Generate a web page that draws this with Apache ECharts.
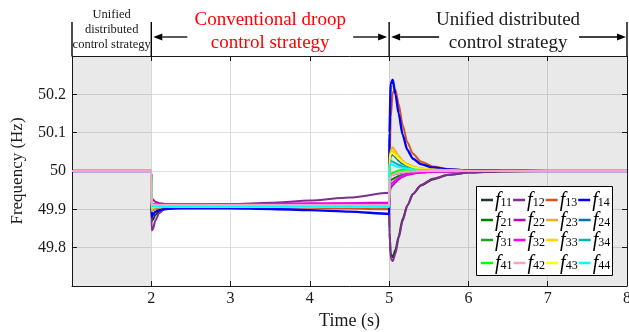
<!DOCTYPE html>
<html>
<head>
<meta charset="utf-8">
<script src="https://cdn.jsdelivr.net/npm/echarts@6/dist/echarts.min.js"></script>
<style>
  html, body { margin: 0; padding: 0; background: #fff; }
  #chart { width: 629px; height: 332px; }
</style>
</head>
<body>
<div id="chart"></div>
<script>
// Sample times (s)
const time = [1, 2, 2.004, 2.02, 2.05, 2.1, 2.17, 2.3, 2.6, 3, 3.5, 4, 4.5, 5,
  5.004, 5.02, 5.045, 5.08, 5.12, 5.17, 5.23, 5.3, 5.4, 5.55, 5.75, 6, 6.4, 7, 8];

// Frequency of each unit (Hz)
const f11 = [50, 50, 49.87, 49.872, 49.885, 49.895, 49.9, 49.903, 49.905, 49.906, 49.906, 49.906, 49.905, 49.904, 49.84, 49.785, 49.775, 49.795, 49.83, 49.875, 49.91, 49.94, 49.962, 49.978, 49.99, 49.996, 49.999, 50, 50];
const f12 = [50, 50, 49.845, 49.848, 49.87, 49.89, 49.902, 49.908, 49.911, 49.914, 49.917, 49.923, 49.931, 49.943, 49.85, 49.772, 49.765, 49.785, 49.825, 49.87, 49.91, 49.94, 49.963, 49.98, 49.99, 49.996, 49.999, 50, 50];
const f13 = [50, 50, 49.9, 49.897, 49.9, 49.903, 49.905, 49.906, 49.906, 49.906, 49.905, 49.904, 49.902, 49.9, 50.0, 50.14, 50.205, 50.212, 50.175, 50.12, 50.075, 50.045, 50.025, 50.012, 50.005, 50.002, 50.001, 50, 50];
const f14 = [50, 50, 49.88, 49.886, 49.893, 49.898, 49.901, 49.903, 49.903, 49.903, 49.901, 49.898, 49.894, 49.888, 50.1, 50.228, 50.238, 50.2, 50.15, 50.095, 50.055, 50.032, 50.018, 50.009, 50.004, 50.002, 50.001, 50, 50];
const f21 = [50, 50, 49.9, 49.902, 49.905, 49.907, 49.908, 49.908, 49.908, 49.909, 49.909, 49.909, 49.91, 49.91, 49.97, 49.976, 49.979, 49.983, 49.987, 49.99, 49.993, 49.995, 49.997, 49.998, 49.999, 50, 50, 50, 50];
const f22 = [50, 50, 49.93, 49.926, 49.92, 49.916, 49.914, 49.913, 49.913, 49.913, 49.914, 49.915, 49.916, 49.918, 49.94, 49.956, 49.963, 49.97, 49.978, 49.985, 49.99, 49.993, 49.996, 49.998, 49.999, 50, 50, 50, 50];
const f23 = [50, 50, 49.895, 49.898, 49.902, 49.905, 49.906, 49.907, 49.907, 49.907, 49.907, 49.907, 49.906, 49.906, 50.02, 50.055, 50.062, 50.052, 50.039, 50.027, 50.018, 50.012, 50.007, 50.004, 50.002, 50.001, 50, 50, 50];
const f24 = [50, 50, 49.9, 49.901, 49.904, 49.906, 49.907, 49.907, 49.908, 49.908, 49.908, 49.907, 49.907, 49.906, 50.015, 50.038, 50.043, 50.036, 50.027, 50.019, 50.013, 50.009, 50.005, 50.003, 50.001, 50, 50, 50, 50];
const f31 = [50, 50, 49.905, 49.905, 49.907, 49.908, 49.909, 49.909, 49.909, 49.91, 49.91, 49.91, 49.91, 49.911, 49.985, 49.988, 49.99, 49.992, 49.994, 49.996, 49.997, 49.998, 49.999, 50, 50, 50, 50, 50, 50];
const f32 = [50, 50, 49.915, 49.914, 49.913, 49.913, 49.913, 49.913, 49.913, 49.914, 49.914, 49.915, 49.915, 49.916, 49.955, 49.965, 49.97, 49.976, 49.982, 49.988, 49.992, 49.995, 49.997, 49.998, 49.999, 50, 50, 50, 50];
const f33 = [50, 50, 49.9, 49.902, 49.905, 49.906, 49.907, 49.907, 49.907, 49.907, 49.907, 49.907, 49.907, 49.907, 50.025, 50.048, 50.052, 50.044, 50.034, 50.024, 50.016, 50.01, 50.006, 50.003, 50.001, 50, 50, 50, 50];
const f34 = [50, 50, 49.905, 49.906, 49.907, 49.908, 49.908, 49.909, 49.909, 49.909, 49.909, 49.909, 49.909, 49.909, 50.022, 50.026, 50.024, 50.02, 50.016, 50.012, 50.008, 50.006, 50.004, 50.002, 50.001, 50, 50, 50, 50];
const f41 = [50, 50, 49.91, 49.91, 49.91, 49.91, 49.91, 49.91, 49.91, 49.91, 49.91, 49.91, 49.91, 49.91, 49.99, 49.992, 49.995, 49.998, 50.001, 50.003, 50.003, 50.002, 50.002, 50.001, 50.001, 50, 50, 50, 50];
const f42 = [50, 50, 49.912, 49.912, 49.911, 49.911, 49.911, 49.911, 49.911, 49.911, 49.911, 49.911, 49.911, 49.911, 49.975, 49.985, 49.99, 49.993, 49.995, 49.997, 49.998, 49.999, 50, 50, 50, 50, 50, 50, 50];
const f43 = [50, 50, 49.905, 49.906, 49.907, 49.908, 49.908, 49.908, 49.908, 49.908, 49.908, 49.908, 49.908, 49.908, 50.03, 50.045, 50.046, 50.04, 50.032, 50.023, 50.015, 50.01, 50.006, 50.003, 50.001, 50, 50, 50, 50];
const f44 = [50, 50, 49.908, 49.908, 49.909, 49.909, 49.909, 49.909, 49.909, 49.909, 49.909, 49.909, 49.909, 49.909, 50.015, 50.018, 50.016, 50.013, 50.01, 50.008, 50.006, 50.004, 50.003, 50.002, 50.001, 50, 50, 50, 50];

const seriesNames = ['f11', 'f12', 'f13', 'f14', 'f21', 'f22', 'f23', 'f24',
                     'f31', 'f32', 'f33', 'f34', 'f41', 'f42', 'f43', 'f44'];
const seriesValues = [f11, f12, f13, f14, f21, f22, f23, f24, f31, f32, f33, f34, f41, f42, f43, f44];
const seriesColors = ['#1f3a2a', '#7e2f8e', '#d95319', '#0000ff',
                      '#008000', '#bf00bf', '#edb120', '#0072bd',
                      '#22a022', '#ff00ff', '#ffd200', '#00b5b5',
                      '#00ff00', '#ff9ecb', '#ffff00', '#00ffff'];
// Draw order: pink trace on top
const drawOrder = [0, 1, 2, 3, 4, 5, 6, 7, 8, 9, 10, 11, 12, 14, 15, 13];

// Phase boundaries (s) and header labels
const phaseBounds = [1, 2, 5, 8];
const shadedPhases = [[1, 2], [5, 8]];
const xTicks = [2, 3, 4, 5, 6, 7, 8];

const SERIF = 'Liberation Serif, Times New Roman, serif';
const INK = '#1a1a1a';

const chart = echarts.init(document.getElementById('chart'));

const lineSeries = drawOrder.map(i => ({
  name: seriesNames[i],
  type: 'line',
  data: time.map((t, k) => [t, seriesValues[i][k]]),
  showSymbol: false,
  symbol: 'none',
  smooth: 0.25,
  smoothMonotone: 'x',
  lineStyle: { width: i === 3 ? 2.4 : 2, color: seriesColors[i] },
  itemStyle: { color: seriesColors[i] },
  animation: false,
  z: 3
}));

// Background shading for the unified-control intervals
const shadeSeries = {
  name: 'shade',
  type: 'line',
  data: [[1, 50]],
  symbol: 'none',
  lineStyle: { width: 0 },
  silent: true,
  animation: false,
  z: 1,
  markArea: {
    silent: true,
    itemStyle: { color: 'rgba(0,0,0,0.085)' },
    data: shadedPhases.map(p => [{ xAxis: p[0] }, { xAxis: p[1] }])
  }
};

const legendRows = [
  ['f11', 'f12', 'f13', 'f14'],
  ['f21', 'f22', 'f23', 'f24'],
  ['f31', 'f32', 'f33', 'f34'],
  ['f41', 'f42', 'f43', 'f44']
];
const legendRowTops = [189, 209, 229, 252];

const legendRich = {
  f: { fontFamily: SERIF, fontStyle: 'italic', fontSize: 20, lineHeight: 18, verticalAlign: 'top', color: '#000' },
  s: { fontFamily: SERIF, fontSize: 12, lineHeight: 12, padding: [8, 0, 0, 0], verticalAlign: 'bottom', color: '#000' }
};

const legends = legendRows.map((row, r) => ({
  data: row,
  left: 481,
  top: legendRowTops[r],
  orient: 'horizontal',
  padding: 0,
  itemGap: 1,
  itemWidth: 12,
  itemHeight: 2.5,
  icon: 'rect',
  z: 10,
  selectedMode: false,
  formatter: name => '{f|f}{s|' + name.slice(1) + '}',
  textStyle: { rich: legendRich, padding: [0, 0, 0, -3] }
}));

chart.setOption({
  animation: false,
  backgroundColor: '#fff',
  grid: { left: 72, right: 2, top: 56, bottom: 46, outerBoundsMode: 'none', containLabel: false },
  legend: legends,
  xAxis: [{
    type: 'value',
    min: 1, max: 8, interval: 1,
    name: 'Time (s)',
    nameLocation: 'middle',
    nameGap: 22,
    nameTextStyle: { fontFamily: SERIF, fontSize: 18, color: INK },
    axisLine: { lineStyle: { color: INK, width: 1 } },
    axisTick: { inside: true, length: 5, lineStyle: { color: INK } },
    axisLabel: {
      showMinLabel: false, margin: 5,
      fontFamily: SERIF, fontSize: 16, color: INK,
      formatter: v => (xTicks.indexOf(v) >= 0 ? String(v) : '')
    },
    splitLine: { show: true, lineStyle: { color: '#dedede', width: 1 } }
  }, {
    type: 'value', position: 'top',
    min: 1, max: 8, interval: 1,
    axisLine: { lineStyle: { color: INK, width: 1 } },
    axisTick: { inside: true, length: 5, lineStyle: { color: INK } },
    axisLabel: { show: false },
    splitLine: { show: false }
  }],
  yAxis: [{
    type: 'value',
    min: 49.7, max: 50.3, interval: 0.1,
    name: 'Frequency (Hz)',
    nameLocation: 'middle',
    nameGap: 46,
    nameTextStyle: { fontFamily: SERIF, fontSize: 17, color: INK },
    axisLine: { show: true, lineStyle: { color: INK, width: 1 } },
    axisTick: { show: true, inside: true, length: 5, lineStyle: { color: INK } },
    axisLabel: {
      showMinLabel: false, showMaxLabel: false, margin: 6,
      fontFamily: SERIF, fontSize: 16, color: INK,
      formatter: v => String(Math.round(v * 10) / 10)
    },
    splitLine: { show: true, lineStyle: { color: '#dedede', width: 1 } }
  }, {
    type: 'value', position: 'right',
    min: 49.7, max: 50.3, interval: 0.1,
    axisLine: { show: true, lineStyle: { color: INK, width: 1 } },
    axisTick: { show: true, inside: true, length: 5, lineStyle: { color: INK } },
    axisLabel: { show: false },
    splitLine: { show: false }
  }],
  series: [shadeSeries].concat(lineSeries)
});

// Header: phase separators, arrows and strategy labels
const px = phaseBounds.map(t => chart.convertToPixel({ xAxisIndex: 0 }, t));
const plotTop = chart.convertToPixel({ yAxisIndex: 0 }, 50.3);
const lineTop = 22;
const arrowY = 37;

function arrow(tailX, headX) {
  const dir = headX > tailX ? 1 : -1;
  const L = 9, H = 3.5;
  return [{
    type: 'line', silent: true,
    shape: { x1: tailX, y1: arrowY, x2: headX - dir * L, y2: arrowY },
    style: { stroke: '#000', lineWidth: 1.3 }
  }, {
    type: 'polygon', silent: true,
    shape: { points: [[headX, arrowY], [headX - dir * L, arrowY - H], [headX - dir * L, arrowY + H]] },
    style: { fill: '#000' }
  }];
}

const graphics = [];
px.forEach(x => {
  graphics.push({
    type: 'line', silent: true,
    shape: { x1: x, y1: lineTop, x2: x, y2: plotTop },
    style: { stroke: '#000', lineWidth: 1.4 }
  });
});
// Legend frame
graphics.push({
  type: 'rect', silent: true, z: 5,
  shape: { x: 476.5, y: 186.5, width: 136, height: 89 },
  style: { fill: '#fff', stroke: '#000', lineWidth: 1 }
});

arrow(px[1] + 36, px[1] + 2).forEach(g => graphics.push(g));
arrow(px[2] - 36, px[2] - 2).forEach(g => graphics.push(g));
arrow(px[2] + 50, px[2] + 2).forEach(g => graphics.push(g));
arrow(px[3] - 48, px[3] - 1).forEach(g => graphics.push(g));

function headerText(text, cx, cy, size, color) {
  return {
    type: 'text', silent: true,
    style: {
      text: text, x: cx, y: cy, align: 'center', verticalAlign: 'middle',
      font: size + 'px ' + SERIF, fill: color
    }
  };
}

const c0 = (px[0] + px[1]) / 2;
const c1 = (px[1] + px[2]) / 2;
const c2 = (px[2] + px[3]) / 2;
graphics.push(headerText('Unified', c0, 15, 12.5, INK));
graphics.push(headerText('distributed', c0, 30, 12.5, INK));
graphics.push(headerText('control strategy', c0, 45, 12.5, INK));
graphics.push(headerText('Conventional droop', c1, 20, 19, '#ff0000'));
graphics.push(headerText('control strategy', c1, 43, 19, '#ff0000'));
graphics.push(headerText('Unified distributed', c2, 20, 19, INK));
graphics.push(headerText('control strategy', c2, 43, 19, INK));

chart.setOption({ graphic: graphics });
</script>
</body>
</html>
